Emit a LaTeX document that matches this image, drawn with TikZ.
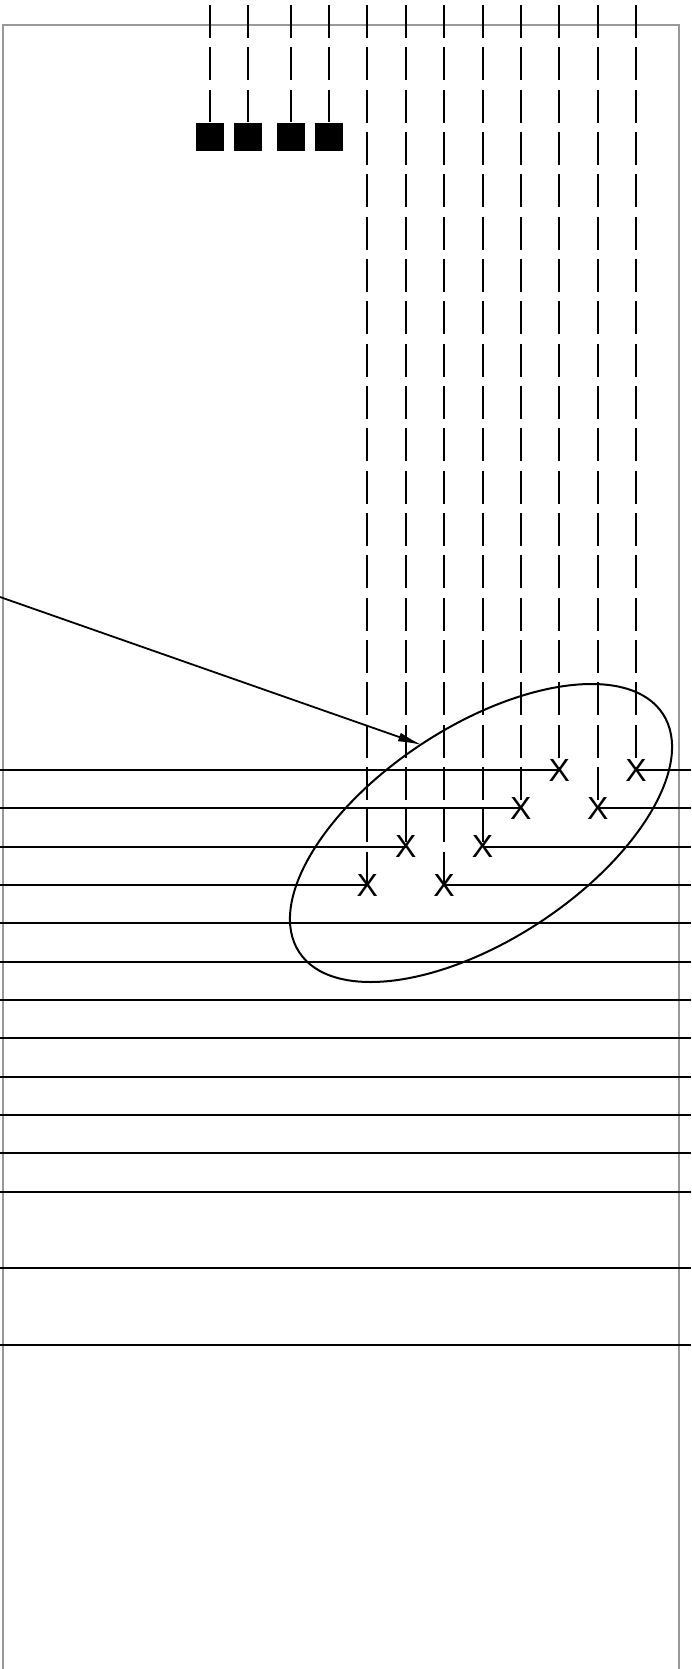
\documentclass[tikz,border=0pt]{standalone}
\usepackage{fontspec}
\setmainfont{Liberation Sans}
\usetikzlibrary{arrows.meta, positioning}
\definecolor{cframe}{HTML}{999999}
\tikzset{
  every picture/.style={line width=2pt, x=1pt, y=-1pt},
  probe/.style={dash pattern=on 33pt off 9.33pt},
  hit/.style={font=\fontsize{32}{32}\selectfont, inner sep=0pt},
  pad/.style={fill=black, minimum size=28pt, inner sep=0pt},
  beam/.style={-{Latex[length=24pt, width=9pt]}, line width=1.8pt},
  frame/.style={draw=cframe, line width=2pt},
}

\begin{document}
\begin{tikzpicture}
  \useasboundingbox (0,0) rectangle (691,1669);
  \clip (0,0) rectangle (691,1669);
  \draw[frame] (3,25) rectangle (679,1700);
  % pads with their short probes
  \foreach \px [count=\i] in {210,248.3,290.7,329} {
    \node[pad] (p\i) at (\px,137) {};
    \coordinate (s\i) at (\px,5);
    \draw[probe] (s\i) -- (p\i.north);
  }
  % hits, one per probe
  \foreach \r [count=\i] in {4,3,4,3,2,1,2,1} {
    \node[hit] (x\i) at ({367.3+38.4*(\i-1)},{770+38.33*(\r-1)}) {X};
    \coordinate (t\i) at ({367.3+38.4*(\i-1)},5);
    \draw[probe] (t\i) -- (x\i.center);
  }
  % rows broken by the hits
  \foreach \j/\a/\b in {1/6/8, 2/5/7, 3/2/4, 4/1/3} {
    \coordinate (l\j) at (0,{770+38.33*(\j-1)});
    \coordinate (r\j) at (691,{770+38.33*(\j-1)});
    \draw (l\j) -- (x\a.center);
    \draw (x\b.center) -- (r\j);
  }
  % full rows
  \foreach \j in {5,...,12,14,16} {
    \coordinate (l\j) at (0,{770+38.33*(\j-1)});
    \coordinate (r\j) at (691,{770+38.33*(\j-1)});
    \draw (l\j) -- (r\j);
  }
  \draw[rotate around={33.25:(481,833)}] (481,833) ellipse [x radius=217.4, y radius=106.9];
  \coordinate (src) at (0,597);
  \coordinate (tip) at (422,745);
  \draw[beam] (src) -- (tip);
\end{tikzpicture}
\end{document}
